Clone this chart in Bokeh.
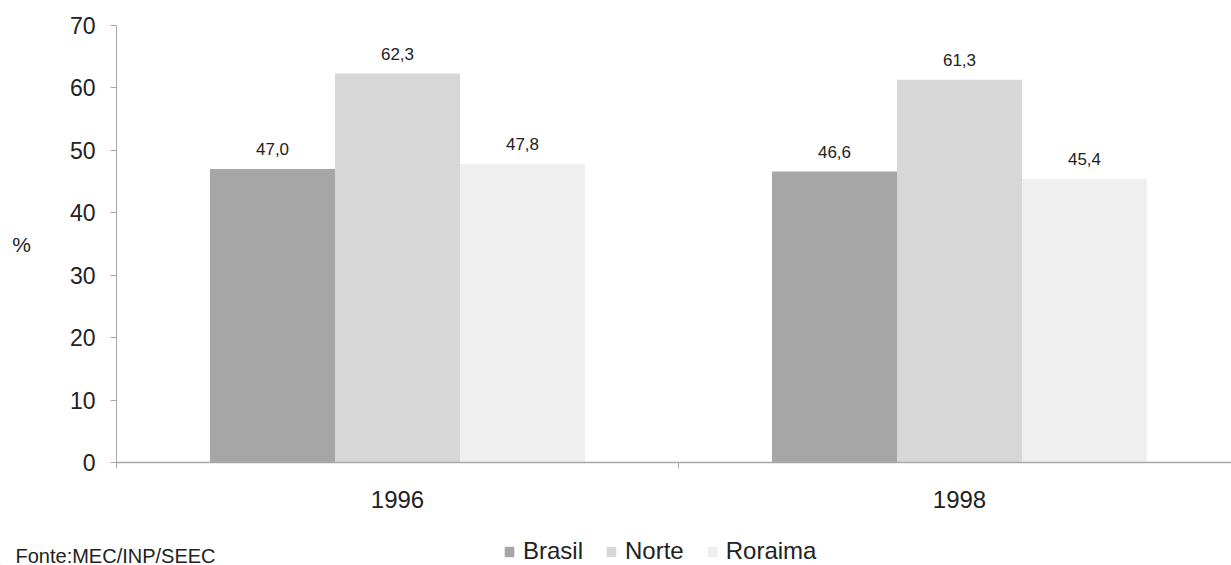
from bokeh.plotting import figure
from bokeh.layouts import column
from bokeh.models import FixedTicker, Legend, LegendItem, Label, Range1d
from bokeh.core.properties import value
from bokeh.embed import file_html
from bokeh.resources import INLINE

years = ["1996", "1998"]
series = ["Brasil", "Norte", "Roraima"]
brasil = [47.0, 46.6]
norte = [62.3, 61.3]
roraima = [47.8, 45.4]
colors = ["#a6a6a6", "#d7d7d7", "#efefef"]
yticks = [0, 10, 20, 30, 40, 50, 60, 70]
source_note = "Fonte:MEC/INP/SEEC"

FONT = "Liberation Sans"
TXT = "#222222"
AX = "#a8a8a8"

p = figure(width=1231, height=520, output_backend="svg", toolbar_location=None,
           x_range=Range1d(0, 1.984), y_range=Range1d(0, 70),
           min_border_left=116, min_border_top=25, min_border_bottom=58, min_border_right=0)
p.outline_line_color = None
p.grid.grid_line_color = None

bw = 0.2224
centers = [0.5, 1.5]
vals = [brasil, norte, roraima]
for i, (v, c) in enumerate(zip(vals, colors)):
    xs = [cx + (i - 1) * bw for cx in centers]
    p.vbar(x=xs, top=v, width=bw, bottom=0, fill_color=c, line_color=None)
    p.text(x=xs, y=v, text=[f"{val:.1f}".replace(".", ",") for val in v],
           text_font=value(FONT), text_font_size="17px", text_color=TXT,
           text_align="center", text_baseline="middle", y_offset=-20)

# y axis
p.yaxis.ticker = FixedTicker(ticks=yticks)
p.yaxis.axis_line_color = AX
p.yaxis.major_tick_line_color = AX
p.yaxis.major_tick_out = 6
p.yaxis.major_tick_in = 0
p.yaxis.minor_tick_line_color = None
p.yaxis.major_label_text_font = FONT
p.yaxis.major_label_text_font_size = "23px"
p.yaxis.major_label_text_color = TXT
p.yaxis.major_label_standoff = 15
p.yaxis.axis_label = "%"
p.yaxis.axis_label_orientation = "horizontal"
p.yaxis.axis_label_text_font = FONT
p.yaxis.axis_label_text_font_style = "normal"
p.yaxis.axis_label_text_font_size = "21px"
p.yaxis.axis_label_text_color = TXT
p.yaxis.axis_label_standoff = 36

# x axis
p.xaxis.ticker = FixedTicker(ticks=centers, minor_ticks=[0, 1, 2])
p.xaxis.major_label_overrides = {0.5: years[0], 1.5: years[1]}
p.xaxis.axis_line_color = AX
p.xaxis.axis_line_width = 1.5
p.xaxis.major_tick_line_color = None
p.xaxis.major_tick_out = 0
p.xaxis.minor_tick_line_color = AX
p.xaxis.minor_tick_out = 6
p.xaxis.minor_tick_in = 0
p.xaxis.major_label_text_font = FONT
p.xaxis.major_label_text_font_size = "24px"
p.xaxis.major_label_text_color = TXT
p.xaxis.major_label_standoff = 22

# footer: source note and legend (pixel-unit ranges)
f = figure(width=1231, height=45, output_backend="svg", toolbar_location=None,
           x_range=Range1d(0, 1231), y_range=Range1d(0, 45),
           min_border=0, min_border_left=0, min_border_right=0, min_border_top=0, min_border_bottom=0)
f.axis.visible = False
f.grid.grid_line_color = None
f.outline_line_color = None
for fig in (p, f):
    try:
        fig.frame_align = False
    except Exception:
        pass

dummies = [f.vbar(x=[-500], top=[1], width=1, fill_color=c, line_color=None) for c in colors]
legend = Legend(items=[LegendItem(label=n, renderers=[r]) for n, r in zip(series, dummies)],
                orientation="horizontal", location=(503, 0),
                label_text_font=FONT, label_text_font_size="24px", label_text_color=TXT,
                glyph_width=12, glyph_height=13, spacing=22, label_standoff=8,
                border_line_color=None, background_fill_alpha=0, padding=0, margin=0)
f.add_layout(legend)

note = Label(x=15, y=10, text=source_note, text_baseline="middle",
             text_font=FONT, text_font_size="20px", text_color=TXT)
f.add_layout(note)

open("out.html", "w").write(file_html(column(p, f, spacing=0), INLINE))
